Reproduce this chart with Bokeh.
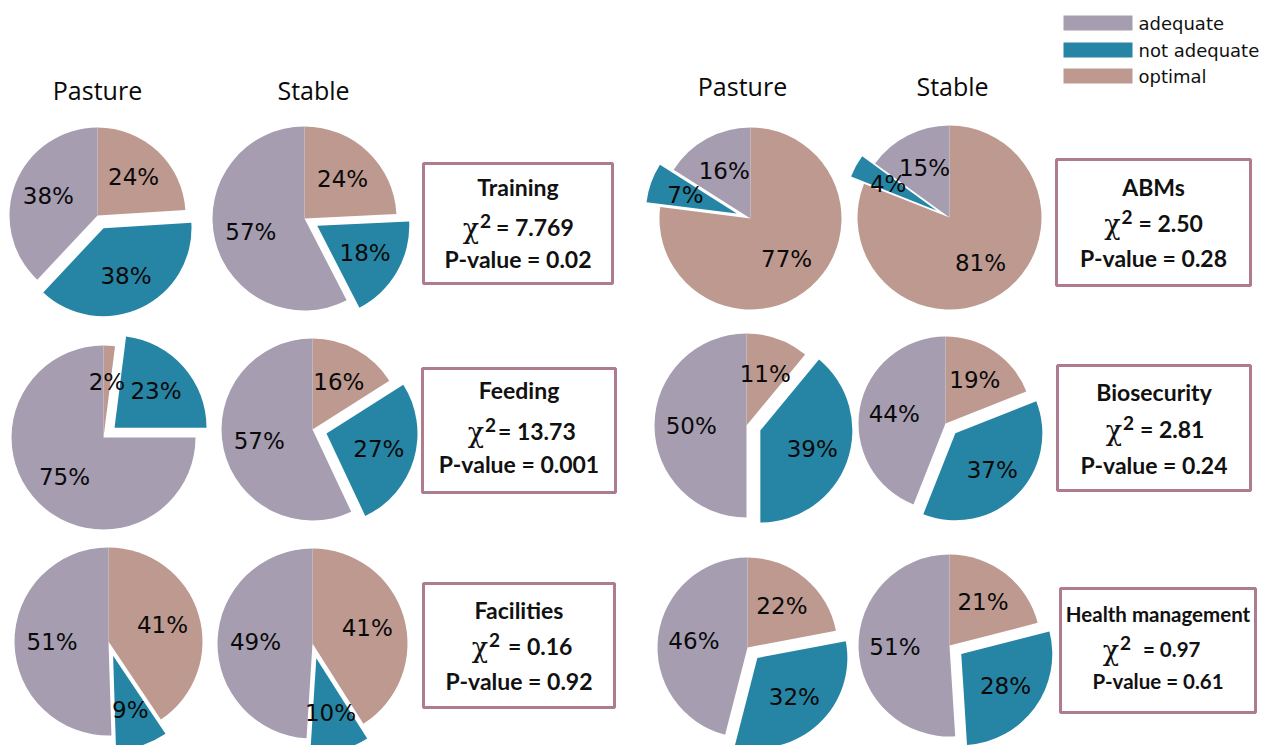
import numpy as np
from bokeh.plotting import figure
from bokeh.models import Range1d, ColumnDataSource
from bokeh.embed import file_html
from bokeh.resources import INLINE
from bokeh.core.properties import value

# ---------------- data ----------------
categories = ["optimal", "not adequate", "adequate"]          # clockwise order from 12 o'clock
legend_order = ["adequate", "not adequate", "optimal"]
topics = ["Training", "Feeding", "Facilities", "ABMs", "Biosecurity", "Health management"]
pasture_optimal = [24, 2, 41, 77, 11, 22]
pasture_not_adequate = [38, 23, 9, 7, 39, 32]
pasture_adequate = [38, 75, 51, 16, 50, 46]
stable_optimal = [24, 16, 41, 81, 19, 21]
stable_not_adequate = [18, 27, 10, 4, 37, 28]
stable_adequate = [57, 57, 49, 15, 44, 51]
chi2_values = ["7.769", "13.73", "0.16", "2.50", "2.81", "0.97"]
p_values = ["0.02", "0.001", "0.92", "0.28", "0.24", "0.61"]
group_titles = ["Pasture", "Stable"]

# ---------------- style / layout ----------------
colors = {"adequate": "#A69DB1", "not adequate": "#2685A4", "optimal": "#BD998F"}
W, H = 1270, 745


def X(xi):
    return xi


def Y(yi):
    return H - yi


# pie centres (image px) and radii: (pasture, stable)
pie_layout = [
    ((97, 215, 88), (304, 218, 92)),
    ((103, 437, 92), (312, 429, 91)),
    ((108, 641, 94), (312, 643, 95)),
    ((750, 218, 91), (949, 217, 92)),
    ((746, 425, 92), (945, 423, 87)),
    ((747, 647, 90), (949, 645, 91)),
]
# boxes: left, top, right, bottom, title_y, chi_y, p_y, chi_right_off, eq_left_off, fontsize
box_layout = [
    (423, 163, 612, 283, 186, 226, 258, -39, -22, 23),
    (422, 368, 615, 492, 389, 430, 463, -35, -21, 23),
    (423, 583, 614, 707, 609, 645, 680, -31, -11, 23),
    (1056, 159, 1250, 285, 186, 222, 257, -33, -15, 23),
    (1057, 365, 1250, 490, 391, 428, 464, -32, -14, 23),
    (1060, 588, 1255, 712, 613, 648, 680, -39, -15, 20.5),
]
title_pos = [(97, 89), (313, 89), (742, 85), (952, 85)]

p = figure(width=W, height=H, output_backend="svg", toolbar_location=None,
           x_range=Range1d(0, W), y_range=Range1d(0, H), min_border=0)
p.axis.visible = False
p.grid.visible = False
p.outline_line_color = None
p.background_fill_color = "white"
p.border_fill_color = "white"

wx, wy, wr, ws, we, wc = [], [], [], [], [], []
lx, ly, lt = [], [], []
for i, t in enumerate(topics):
    groups = [
        [pasture_optimal[i], pasture_not_adequate[i], pasture_adequate[i]],
        [stable_optimal[i], stable_not_adequate[i], stable_adequate[i]],
    ]
    for g, vals in enumerate(groups):
        cx, cy, r = pie_layout[i][g]
        cx, cy = X(cx), Y(cy)
        v = np.array(vals, dtype=float)
        frac = v / v.sum()
        cum = np.concatenate([[0], np.cumsum(frac)])
        for k, cat in enumerate(categories):
            a0 = np.pi / 2 - 2 * np.pi * cum[k]
            a1 = np.pi / 2 - 2 * np.pi * cum[k + 1]
            mid = (a0 + a1) / 2
            d = 0.16 * r if cat == "not adequate" else 0.0
            ox, oy = cx + d * np.cos(mid), cy + d * np.sin(mid)
            wx.append(ox); wy.append(oy); wr.append(r)
            ws.append(a0); we.append(a1); wc.append(colors[cat])
            lx.append(ox + 0.6 * r * np.cos(mid))
            ly.append(oy + 0.6 * r * np.sin(mid))
            lt.append(f"{vals[k]}%")

p.wedge(x="x", y="y", radius="r", start_angle="s", end_angle="e", direction="clock",
        fill_color="c", line_color=None,
        source=ColumnDataSource(dict(x=wx, y=wy, r=wr, s=ws, e=we, c=wc)))
p.text(x="x", y="y", text="t", source=ColumnDataSource(dict(x=lx, y=ly, t=lt)),
       text_font=value("DejaVu Sans"), text_font_size="23px", text_color="#0a0a0a",
       text_align="center", text_baseline="middle")

# column titles
tx = [X(a) for a, b in title_pos]
ty = [Y(b) for a, b in title_pos]
tt = group_titles * 2
p.text(x=tx, y=ty, text=tt, text_font=value("Open Sans"), text_font_size="25px",
       text_color="#0a0a0a", text_align="center", text_baseline="middle")

# statistics boxes
for i, t in enumerate(topics):
    l, tp, rr, bt, ty1, ty2, ty3, cro, eqo, fs = box_layout[i]
    p.quad(left=[X(l)], right=[X(rr)], top=[Y(tp)], bottom=[Y(bt)],
           fill_color="white", line_color="#AE7B90", line_width=3)
    cx = (l + rr) / 2
    p.text(x=[X(cx)], y=[Y(ty1)], text=[t], text_font=value("Lato"),
           text_font_style="bold", text_font_size=f"{fs}px", text_color="#111111",
           text_align="center", text_baseline="middle")
    p.text(x=[X(cx + cro)], y=[Y(ty2 + 2)], text=["χ"], text_font=value("DejaVu Serif"),
           text_font_size="27px", text_color="#111111",
           text_align="right", text_baseline="middle")
    p.text(x=[X(cx + cro + 1)], y=[Y(ty2 - 6)], text=["2"], text_font=value("Lato"),
           text_font_style="bold", text_font_size="19px", text_color="#111111",
           text_align="left", text_baseline="middle")
    p.text(x=[X(cx + eqo)], y=[Y(ty2)], text=[f"= {chi2_values[i]}"], text_font=value("Lato"),
           text_font_style="bold", text_font_size=f"{fs}px", text_color="#111111",
           text_align="left", text_baseline="middle")
    p.text(x=[X(cx)], y=[Y(ty3)], text=[f"P-value = {p_values[i]}"], text_font=value("Lato"),
           text_font_style="bold", text_font_size=f"{fs}px", text_color="#111111",
           text_align="center", text_baseline="middle")

# legend
leg_y = [22.5, 49.5, 75.5]
p.quad(left=[X(1063)] * 3, right=[X(1132)] * 3,
       top=[Y(y - 7.5) for y in leg_y], bottom=[Y(y + 7.5) for y in leg_y],
       fill_color=[colors[c] for c in legend_order], line_color=None)
p.text(x=[X(1138)] * 3, y=[Y(y) for y in leg_y], text=legend_order,
       text_font=value("DejaVu Sans"), text_font_size="18px", text_color="#111111",
       text_align="left", text_baseline="middle")

open("out.html", "w").write(file_html(p, INLINE))
